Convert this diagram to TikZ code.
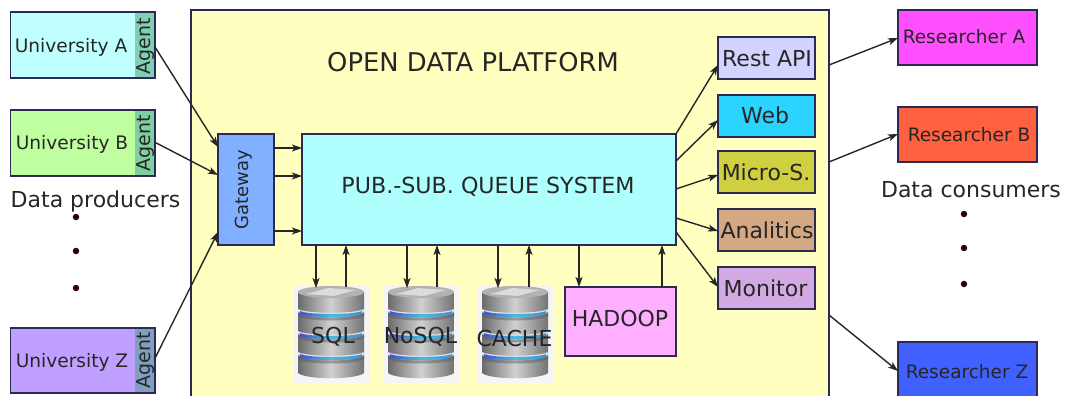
\documentclass[tikz,border=0pt]{standalone}
\usepackage{fontspec}
\setmainfont{DejaVu Sans}
\usetikzlibrary{arrows.meta,calc}
\definecolor{edgec}{HTML}{2A2A55}
\definecolor{dotc}{HTML}{300010}
\definecolor{bandl}{HTML}{3C50D8}
\definecolor{bandm}{HTML}{48BCE0}
\definecolor{bandr}{HTML}{3C90D8}
\newcommand{\fs}[1]{\fontsize{#1}{#1}\selectfont}
\tikzset{
  x=1pt,y=-1pt,
  box/.style={draw=edgec,line width=1.2pt,inner sep=0pt,outer sep=0pt,anchor=north west},
  agentbox/.style={box,draw=none},
  txt/.style={inner sep=0pt,text=black!85},
  link/.style={draw=black!85,line width=1.4pt,-{Stealth[length=10pt,width=7pt,inset=2.5pt]}},
  dotmark/.style={circle,fill=dotc,inner sep=0pt,minimum size=6.5pt},
  dbback/.style={fill=black!4,draw=none,inner sep=0pt,outer sep=0pt,anchor=north west,minimum width=76pt,minimum height=98pt},
  dblabel/.style={txt,font=\fs{22}}
}
\newcommand{\mybox}[7]{% name x1 y1 x2 y2 fill-hex extra-style
  \definecolor{tmpc}{HTML}{#6}%
  \pgfmathsetmacro{\bw}{#4-#2}\pgfmathsetmacro{\bh}{#5-#3}%
  \node[box,fill=tmpc,minimum width=\bw pt,minimum height=\bh pt,#7] (#1) at (#2,#3) {};%
}
\newcommand{\dbcyl}[2]{% left x, top y of body (66 wide, 92 tall)
  \begin{scope}[shift={(#1,#2)}]
    \path[left color=black!58,right color=black!55,middle color=black!18]
      (0,5) -- (0,86) .. controls (8,93) and (58,93) .. (66,86) -- (66,5) -- cycle;
    \path[fill=black!30] (33,5) ellipse [x radius=33,y radius=6];
    \path[fill=black!14] (8,7) -- (30,1) -- (58,3) -- (36,9) -- cycle;
    \foreach \t in {25,47,68}{
      \path[left color=black!62,right color=black!60,middle color=black!40] (0,\t+1) .. controls (8,\t+7) and (58,\t+7) .. (66,\t+1) -- (66,\t+4) .. controls (58,\t+10) and (8,\t+10) .. (0,\t+4) -- cycle;
      \path[fill=white!88!black] (0,\t-3) .. controls (8,\t+2) and (58,\t+2) .. (66,\t-3) -- (66,\t) .. controls (58,\t+5) and (8,\t+5) .. (0,\t) -- cycle;
      \path[left color=bandl,right color=bandr,middle color=bandm]
        (2,\t-1) .. controls (10,\t+3) and (56,\t+3) .. (64,\t-1) -- (64,\t+2) .. controls (56,\t+6) and (10,\t+6) .. (2,\t+2) -- cycle;
    }
  \end{scope}
}
\begin{document}
\begin{tikzpicture}
\useasboundingbox (0,0) rectangle (1065,396);
\begin{scope}
\clip (0,0) rectangle (1065,396);
\mybox{platform}{191}{10}{829}{420}{FFFFBF}{}
\end{scope}
\node[txt,font=\fs{25.8}] (title) at (473,62) {OPEN DATA PLATFORM};

% producers
\mybox{uniA}{10.5}{12}{155}{78}{BFFFFF}{}
\mybox{agentA}{135}{12.6}{154.4}{77.4}{7FCFB5}{agentbox}
\mybox{uniB}{10.5}{110}{155}{176}{BFFF9F}{}
\mybox{agentB}{135}{110.6}{154.4}{175.4}{7FCF9F}{agentbox}
\mybox{uniZ}{10.5}{328}{155}{393}{BF9FFF}{}
\mybox{agentZ}{135}{328.6}{154.4}{392.4}{7F9FBF}{agentbox}
\node[txt,font=\fs{18.6}] (uniAt) at (71,47.5) {University A};
\node[txt,font=\fs{18.6}] (uniBt) at (72,144) {University B};
\node[txt,font=\fs{18.6}] (uniZt) at (72,362.5) {University Z};
\node[txt,font=\fs{19},rotate=90] at (145.5,46) {Agent};
\node[txt,font=\fs{19},rotate=90] at (145.5,143) {Agent};
\node[txt,font=\fs{19},rotate=90] at (145.5,360.5) {Agent};

\node[txt,font=\fs{22}] (prod) at (95.5,201) {Data producers};
\node[dotmark] (pd1) at (76,217) {};
\node[dotmark] (pd2) at (76,251) {};
\node[dotmark] (pd3) at (76,288) {};

% core
\mybox{gateway}{218}{134}{274}{245}{80B0FF}{}
\node[txt,font=\fs{18},rotate=90] at (244,190) {Gateway};
\mybox{queue}{302}{134}{676}{245}{AFFFFF}{}
\node[txt,font=\fs{22.2}] at (488,187) {PUB.-SUB. QUEUE SYSTEM};

% services
\mybox{rest}{718}{37}{815}{79}{D3D3FF}{}
\node[txt,font=\fs{22}] at (767,59) {Rest API};
\mybox{web}{718}{95}{815}{137}{2AD4FF}{}
\node[txt,font=\fs{22}] at (765,115) {Web};
\mybox{micro}{718}{151}{815}{193}{CFCF3F}{}
\node[txt,font=\fs{22}] at (766,172.5) {Micro-S.};
\mybox{analitics}{718}{209}{815}{251}{D3A883}{}
\node[txt,font=\fs{22}] at (767,230) {Analitics};
\mybox{monitor}{718}{267}{815}{309}{D3A9E3}{}
\node[txt,font=\fs{22}] at (765.5,288) {Monitor};

% stores
\node[dbback] (sql) at (294,285) {};
\dbcyl{298}{287}
\node[dbback] (nosql) at (383,285) {};
\dbcyl{388}{287}
\node[dbback] (cache) at (477,285) {};
\dbcyl{482}{287}
\node[dblabel] at (333,337) {SQL};
\node[dblabel] at (420.5,337) {NoSQL};
\node[dblabel] at (514.5,338) {CACHE};
\mybox{hadoop}{565}{287}{676}{356}{FFAFFF}{}
\node[txt,font=\fs{22}] at (620,318) {HADOOP};

% consumers
\mybox{resA}{898}{10}{1037}{65}{FF4FFF}{}
\node[txt,font=\fs{18.5}] at (964,37) {Researcher A};
\mybox{resB}{898}{107}{1037}{162}{FF6040}{}
\node[txt,font=\fs{18.5}] at (969,135) {Researcher B};
\mybox{resZ}{898}{342}{1037}{400}{4060FF}{}
\node[txt,font=\fs{18.5}] at (967,372) {Researcher Z};
\node[txt,font=\fs{22}] (cons) at (971,190) {Data consumers};
\node[dotmark] (cd1) at (964,214) {};
\node[dotmark] (cd2) at (964,248) {};
\node[dotmark] (cd3) at (964,284) {};

% connectors
\draw[link] ($(agentA.east)+(0,1)$) -- ($(gateway.north west)+(0,13)$);
\draw[link] ($(agentB.east)+(0,-1)$) -- ($(gateway.north west)+(0,41)$);
\draw[link] ($(agentZ.south east)+(0,-33)$) -- ($(gateway.south west)+(0,-13)$);
\draw[link] ($(gateway.north east)+(0,14)$) -- ($(queue.north west)+(0,14)$);
\draw[link] ($(gateway.north east)+(0,42)$) -- ($(queue.north west)+(0,42)$);
\draw[link] ($(gateway.south east)+(0,-14)$) -- ($(queue.south west)+(0,-14)$);

\coordinate (sqlin) at ($(sql.north west)+(22,3)$);
\coordinate (sqlout) at ($(sql.north west)+(52,2)$);
\coordinate (nosqlin) at ($(nosql.north west)+(24,3)$);
\coordinate (nosqlout) at ($(nosql.north west)+(54,2)$);
\coordinate (cachein) at ($(cache.north west)+(21,3)$);
\coordinate (cacheout) at ($(cache.north west)+(52,2)$);
\coordinate (hin) at ($(hadoop.north west)+(14,0)$);
\coordinate (hout) at ($(hadoop.north west)+(97,0)$);
\draw[link] (queue.south -| sqlin) -- (sqlin);
\draw[link] (sqlout) -- (queue.south -| sqlout);
\draw[link] (queue.south -| nosqlin) -- (nosqlin);
\draw[link] (nosqlout) -- (queue.south -| nosqlout);
\draw[link] (queue.south -| cachein) -- (cachein);
\draw[link] (cacheout) -- (queue.south -| cacheout);
\draw[link] (queue.south -| hin) -- (hin);
\draw[link] (hout) -- (queue.south -| hout);

\draw[link] (queue.north east) -- ($(rest.south west)+(0,-14)$);
\draw[link] ($(queue.north east)+(0,27)$) -- ($(web.north west)+(0,25)$);
\draw[link] ($(queue.north east)+(0,55)$) -- ($(micro.north west)+(0,24)$);
\draw[link] ($(queue.south east)+(0,-27)$) -- ($(analitics.north west)+(0,22)$);
\draw[link] ($(queue.south east)+(0,-13)$) -- ($(monitor.north west)+(0,20)$);

\coordinate (outA) at ($(platform.north east)+(0,55)$);
\coordinate (outB) at ($(platform.north east)+(0,152)$);
\coordinate (outZ) at ($(platform.north east)+(0,305)$);
\draw[link] (outA) -- ($(resA.north west)+(0,28)$);
\draw[link] (outB) -- ($(resB.north west)+(0,27)$);
\draw[link] (outZ) -- ($(resZ.north west)+(0,29)$);
\end{tikzpicture}
\end{document}
